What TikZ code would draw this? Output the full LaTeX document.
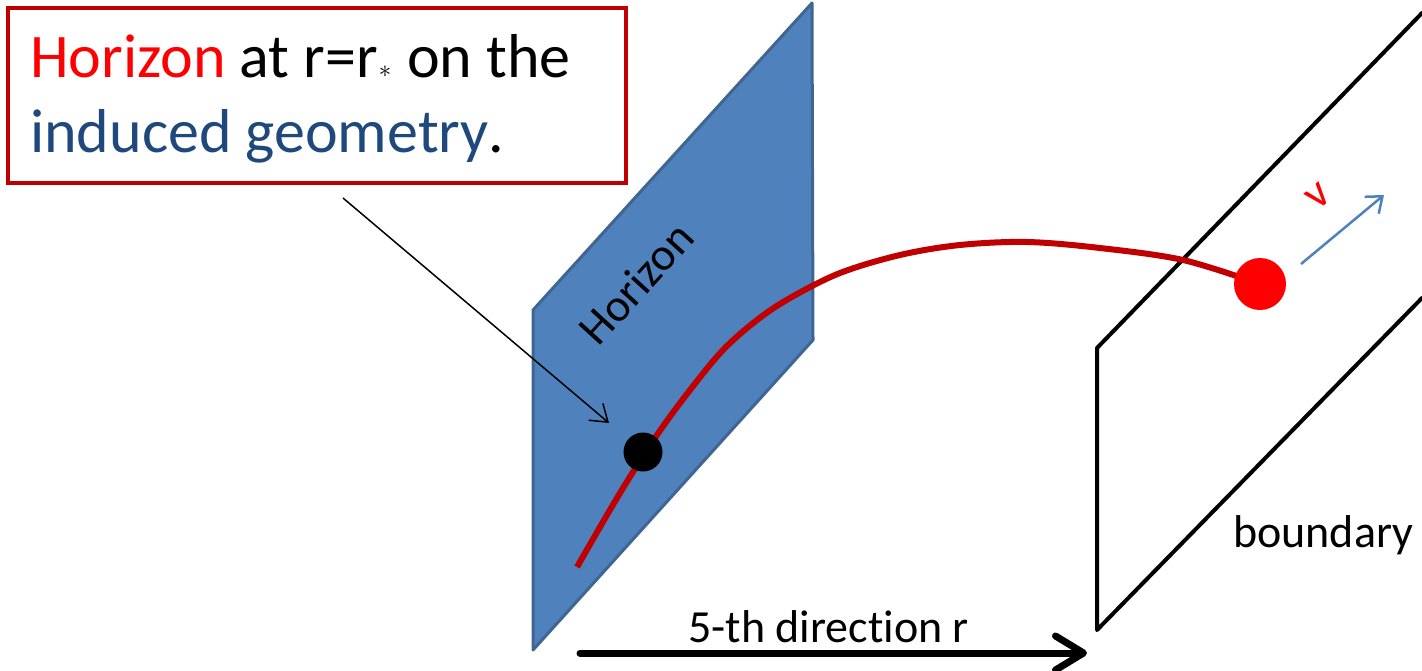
\documentclass[tikz,border=0pt]{standalone}
\usepackage{fontspec}
\setmainfont{Carlito}[Ligatures=NoCommon]
\usetikzlibrary{arrows.meta}
\definecolor{hblue}{HTML}{4F81BD}
\definecolor{hborder}{HTML}{3F6592}
\definecolor{dred}{HTML}{C00000}
\definecolor{tblue}{HTML}{1F497D}
\tikzset{
  big/.style={font=\fontsize{62}{62}\selectfont},
  mid/.style={font=\fontsize{46}{46}\selectfont},
  plane/.style={line width=4pt, line join=round, line cap=round},
}
\newcommand{\rstar}{\kern1pt\raisebox{0pt}{$\ast$}\kern2pt}
\begin{document}
\begin{tikzpicture}[x=1pt,y=-1pt]
\useasboundingbox (0,0) rectangle (1422,670);
% horizon plane
\draw[hborder, fill=hblue, line width=3pt, line join=round]
  (533,310) -- (812,3) -- (813,340) -- (533,650) -- cycle;
\node[mid, rotate=47.7, inner sep=0] (hlabel) at (636,283) {Horizon};
% boundary plane
\draw[plane] (1422,13) -- (1097,348) -- (1097,630) -- (1422,298);
\node[mid, anchor=base west, inner sep=0] (blabel) at (1233,547) {boundary};
% curve
\draw[dred, line width=6pt] plot[smooth, tension=0.55] coordinates
  {(577,567) (620,493) (657,435) (690,390) (723,350) (757,320) (790,298) (840,273) (900,255) (960,245) (1027,242) (1100,248) (1183,260) (1260,284)};
\node[circle, fill=black, minimum size=39pt, inner sep=0] (bdot) at (643,452) {};
\node[circle, fill=red, minimum size=52pt, inner sep=0] (rdot) at (1260,284) {};
% velocity arrow
\coordinate (va) at (1301,264);
\coordinate (vb) at (1384,195);
\draw[hblue, line width=2.5pt, -{Straight Barb[length=14pt,width=22pt]}] (va) -- (vb);
\node[mid, text=red, rotate=40, inner sep=0] (vlabel) at (1318,196) {v};
% callout box
\node[draw=dred, line width=4.5pt, minimum width=618pt, minimum height=175pt, inner sep=0] (box) at (317,95.5) {};
\node[big, anchor=base west, inner sep=0] (l1) at (30,77) {\textcolor{red}{Horizon} at r=r\rstar{} on the};
\node[big, anchor=base west, inner sep=0] (l2) at (30,152) {\textcolor{tblue}{induced geometry}.};
\coordinate (pa) at (343,198);
\coordinate (pb) at (609,423);
\draw[line width=1.5pt, -{Straight Barb[length=16pt,width=22pt]}] (pa) -- (pb);
% r direction
\coordinate (ra) at (580,653);
\coordinate (rb) at (1087,653);
\draw[line width=7pt, line cap=round, -{Straight Barb[length=28pt,width=34pt,line cap=round,line join=round]}] (ra) -- (rb);
\node[mid, anchor=base west, inner sep=0] (rlabel) at (688,642) {5-th direction r};
\end{tikzpicture}
\end{document}
